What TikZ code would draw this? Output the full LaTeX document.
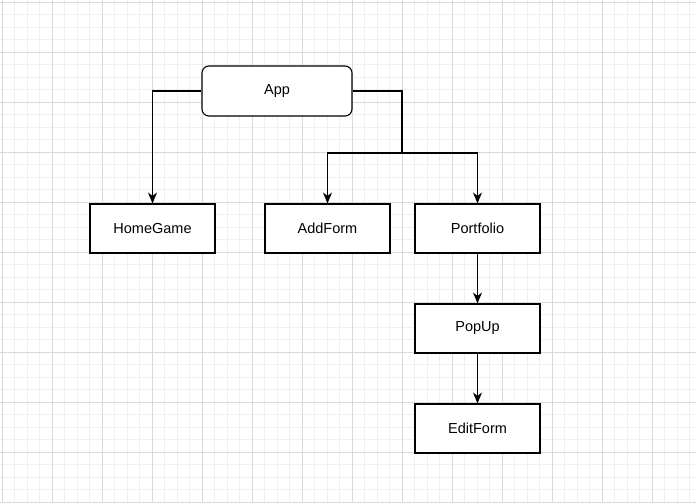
\documentclass[tikz,border=0pt]{standalone}
\usepackage{fontspec}
\setmainfont{Liberation Sans}
\usetikzlibrary{arrows.meta}
\begin{document}
\begin{tikzpicture}[x=1pt,y=-1pt,
  minorgrid/.style={draw=black!6,line width=0.7pt},
  majorgrid/.style={draw=black!15,line width=0.8pt},
  box/.style={draw=black,line width=1.1pt,fill=white,minimum width=125pt,minimum height=49pt,inner sep=0pt,font=\fontsize{14.5}{16}\selectfont},
  rbox/.style={box,rounded corners=7pt,minimum width=150pt,minimum height=50pt},
  conn/.style={draw=black,line width=1.1pt},
  arr/.style={conn,-{Stealth[length=11pt,width=9pt,inset=3.5pt]}}]
\useasboundingbox (0,0) rectangle (696,503);
\fill[white] (0,0) rectangle (696,503);
\foreach \i in {0,...,56} {
  \pgfmathsetmacro\p{2+12.5*\i}
  \draw[minorgrid] (\p,0) -- (\p,503);
}
\foreach \i in {0,...,40} {
  \pgfmathsetmacro\p{2+12.5*\i}
  \draw[minorgrid] (0,\p) -- (696,\p);
}
\foreach \i in {0,...,13} {
  \pgfmathsetmacro\p{2+50*\i}
  \draw[majorgrid] (\p,0) -- (\p,503);
}
\foreach \i in {0,...,10} {
  \pgfmathsetmacro\p{2+50*\i}
  \draw[majorgrid] (0,\p) -- (696,\p);
}
\node[rbox] (app) at (277,91) {App};
\node[box] (home) at (152.5,228.5) {HomeGame};
\node[box] (add) at (327.5,228.5) {AddForm};
\node[box] (port) at (477.5,228.5) {Portfolio};
\node[box] (popup) at (477.5,328.5) {PopUp};
\node[box] (edit) at (477.5,428.5) {EditForm};
\coordinate (split) at (402,153);
\draw[arr] (app.west) -| (home.north);
\draw[conn] (app.east) -| (split);
\draw[arr] (split) -| (add.north);
\draw[arr] (split) -| (port.north);
\draw[arr] (port) -- (popup);
\draw[arr] (popup) -- (edit);
\end{tikzpicture}
\end{document}
